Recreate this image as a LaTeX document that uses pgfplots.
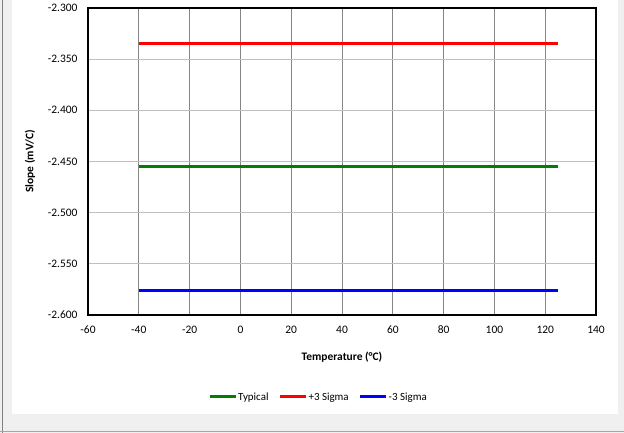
\documentclass[border=0pt]{standalone}
\usepackage{pgfplots}
\pgfplotsset{compat=1.18}
\usepackage{fontspec}
\setmainfont{Carlito}
\definecolor{bgray}{HTML}{F0F0F0}
\definecolor{vgrid}{HTML}{868686}
\definecolor{hgrid}{HTML}{BFBFBF}
\definecolor{lgreen}{HTML}{008000}
\begin{document}
\begin{tikzpicture}[x=1bp,y=1bp]
\fill[bgray] (0,0) rectangle (624,433);
\useasboundingbox (0,0) rectangle (624,433);
\fill[white] (12,19) rectangle (618,433);
\draw[gray, line width=1bp] (2.5,0) -- (2.5,433);
\draw[gray!70, line width=1bp] (0,1) -- (624,1);
\begin{axis}[
  at={(88bp,118bp)}, anchor=south west,
  scale only axis, width=508bp, height=307bp,
  xmin=-60, xmax=140, ymin=-2.6, ymax=-2.3,
  xtick={-60,-40,...,140},
  ytick={-2.6,-2.55,...,-2.29},
  major tick length=0pt,
  xmajorgrids, ymajorgrids,
  x grid style={vgrid, line width=0.8bp},
  y grid style={hgrid, line width=1bp},
  axis line style={black, line width=1.2bp},
  /pgf/number format/assume math mode=true,
  yticklabel style={/pgf/number format/.cd, fixed, fixed zerofill, precision=3, /tikz/.cd, font=\fontsize{11.5}{13}\selectfont, xshift=-7bp},
  xticklabel style={font=\fontsize{11.5}{13}\selectfont, yshift=-7bp, text height=8bp, text depth=2bp},
  scaled y ticks=false,
  xlabel={\textbf{Temperature (°C)}},
  ylabel={\textbf{Slope (mV/C)}},
  xlabel style={font=\fontsize{11.5}{13}\selectfont, at={(axis description cs:0.5,-0.137)}, anchor=center},
  ylabel style={font=\fontsize{11.5}{13}\selectfont, at={(axis description cs:-0.114,0.5)}, anchor=center},
  legend style={at={(axis description cs:0.5,0)}, anchor=center, xshift=-24bp, yshift=-82bp, draw=none, fill=none, legend columns=-1, font=\fontsize{11}{13}\selectfont,
    nodes={inner xsep=1bp},
    /tikz/every even column/.append style={column sep=9bp}},
  legend cell align=left,
  legend image code/.code={\draw[#1, line width=3bp] (0bp,0bp) -- (26bp,0bp);},
  clip=false,
]
\addplot[lgreen, line width=3bp] coordinates {(-40,-2.455) (125,-2.455)};
\addlegendentry{Typical}
\addplot[red, line width=3bp] coordinates {(-40,-2.335) (125,-2.335)};
\addlegendentry{+3 Sigma}
\addplot[blue, line width=3bp] coordinates {(-40,-2.576) (125,-2.576)};
\addlegendentry{-3 Sigma}
\end{axis}
\end{tikzpicture}
\end{document}
